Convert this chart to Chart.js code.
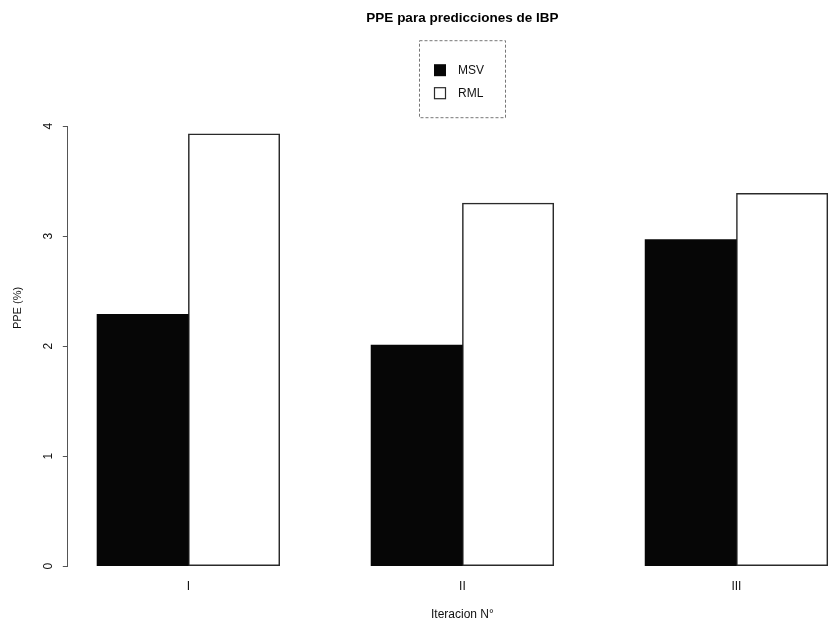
<!DOCTYPE html>
<html>
<head>
<meta charset="utf-8">
<script src="https://cdn.jsdelivr.net/npm/chart.js@4.4.1/dist/chart.umd.min.js"></script>
<style>
  html, body { margin: 0; padding: 0; background: #fff; }
  #wrap { width: 830px; height: 637px; overflow: hidden; position: relative; }
  #c { display: block; }
</style>
</head>
<body>
<div id="wrap"><canvas id="c" width="860" height="637" style="width:860px;height:637px"></canvas></div>
<script>
// Iterations and PPE (%) for each method
const categories = ['I', 'II', 'III'];
const seriesNames = ['MSV', 'RML'];
const msvValues = [2.29, 2.01, 2.97];
const rmlValues = [3.93, 3.30, 3.39];
const yTicks = [0, 1, 2, 3, 4];

const chartTitle = 'PPE para predicciones de IBP';
const xTitle = 'Iteracion N°';
const yTitle = 'PPE (%)';

// Bars sit side by side inside each group, groups separated by one bar width
const GROUP = 3;
const msvPoints = categories.map((c, i) => ({ x: GROUP * i + 1.5, y: msvValues[i] }));
const rmlPoints = categories.map((c, i) => ({ x: GROUP * i + 2.5, y: rmlValues[i] }));
const groupCenters = categories.map((c, i) => GROUP * i + 2);

const FONT = "'Liberation Sans', Arial, Helvetica, sans-serif";

// Boxed legend above the plot and the rotated y-axis title
const boxLegend = {
  id: 'boxLegend',
  afterDraw(chart) {
    const { ctx, chartArea } = chart;
    const cx = (chartArea.left + chartArea.right) / 2;
    const bx = Math.round(cx - 43), by = chartArea.top - 86, bw = 86, bh = 77;
    ctx.save();
    ctx.strokeStyle = '#777';
    ctx.lineWidth = 1;
    ctx.setLineDash([3, 2]);
    ctx.strokeRect(bx + 0.5, by + 0.5, bw, bh);
    ctx.setLineDash([]);
    ctx.font = '12px ' + FONT;
    ctx.textBaseline = 'middle';
    ctx.textAlign = 'left';
    chart.data.datasets.forEach((ds, i) => {
      const y = by + 30 + i * 23;
      ctx.fillStyle = ds.backgroundColor;
      ctx.fillRect(bx + 15, y - 6, 12, 12);
      if (ds.borderWidth) {
        ctx.strokeStyle = ds.borderColor;
        ctx.lineWidth = 1.2;
        ctx.strokeRect(bx + 15.5, y - 5.5, 11, 11);
      }
      ctx.fillStyle = '#111';
      ctx.fillText(ds.label, bx + 39, y);
    });
    // y-axis title, reading bottom to top
    ctx.translate(18, 308);
    ctx.rotate(-Math.PI / 2);
    ctx.textAlign = 'center';
    ctx.font = '11px ' + FONT;
    ctx.fillStyle = '#111';
    ctx.fillText(yTitle, 0, 0);
    ctx.restore();
  }
};

new Chart(document.getElementById('c'), {
  type: 'bar',
  data: {
    datasets: [
      {
        label: seriesNames[0],
        data: msvPoints,
        backgroundColor: '#060606',
        borderColor: '#060606',
        borderWidth: 0
      },
      {
        label: seriesNames[1],
        data: rmlPoints,
        backgroundColor: '#ffffff',
        borderColor: '#2a2a2a',
        borderWidth: 1.5,
        borderSkipped: false
      }
    ]
  },
  options: {
    responsive: false,
    animation: false,
    events: [],
    grouped: false,
    categoryPercentage: 1,
    barPercentage: 1,
    layout: { padding: { left: 27, right: 3, top: 0, bottom: 0 } },
    plugins: {
      legend: { display: false },
      tooltip: { enabled: false },
      title: {
        display: true,
        text: chartTitle,
        fullSize: false,
        color: '#000',
        font: { family: FONT, size: 13.5, weight: 'bold' },
        padding: { top: 10, bottom: 100 }
      }
    },
    scales: {
      x: {
        type: 'linear',
        offset: false,
        min: 0.68,
        max: 9.32,
        grid: { display: false, drawTicks: false },
        border: { display: false },
        afterBuildTicks(scale) {
          scale.ticks = groupCenters.map(v => ({ value: v }));
        },
        ticks: {
          padding: 12.8,
          color: '#111',
          font: { family: FONT, size: 12 },
          callback(value) {
            const i = groupCenters.indexOf(value);
            return i >= 0 ? categories[i] : '';
          }
        },
        title: {
          display: true,
          text: xTitle,
          color: '#111',
          font: { family: FONT, size: 12 },
          padding: { top: 1.6, bottom: 14.8 }
        }
      },
      y: {
        min: 0,
        max: 4,
        afterBuildTicks(scale) {
          scale.ticks = yTicks.map(v => ({ value: v }));
        },
        grid: { display: true, drawOnChartArea: false, drawTicks: true, tickLength: 5, color: '#555' },
        border: { display: true, color: '#555', width: 1 },
        ticks: {
          minRotation: 90,
          maxRotation: 90,
          crossAlign: 'center',
          padding: 10.7,
          color: '#111',
          font: { family: FONT, size: 12 }
        }
      }
    }
  },
  plugins: [boxLegend]
});
</script>
</body>
</html>
